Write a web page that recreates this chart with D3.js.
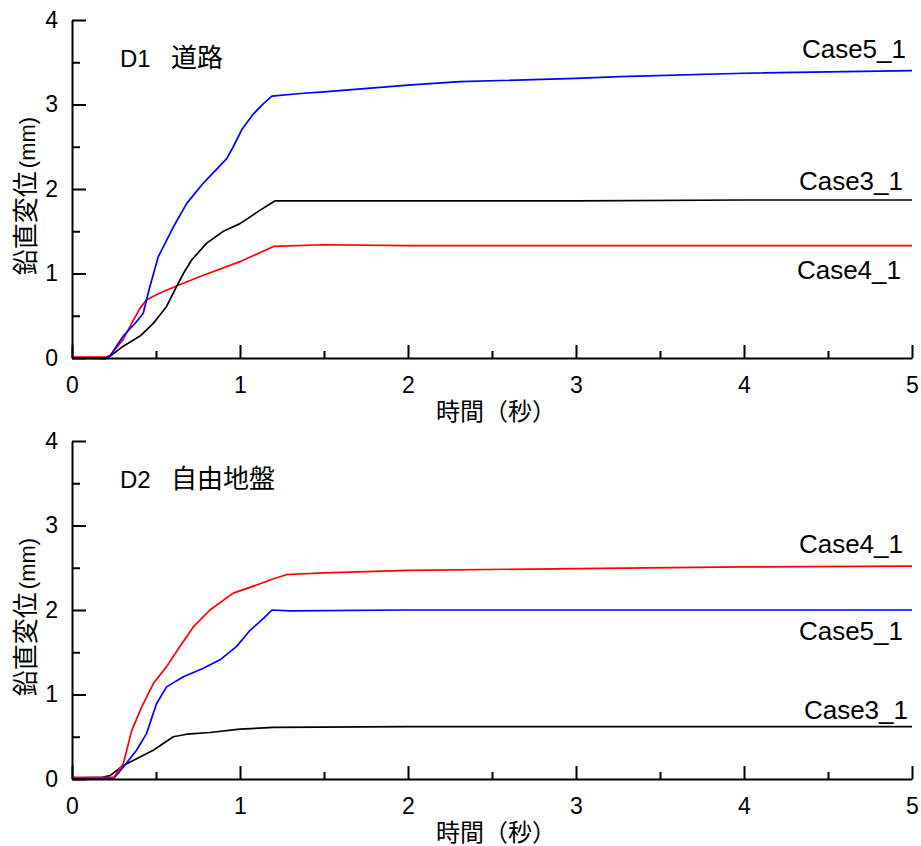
<!DOCTYPE html>
<html>
<head>
<meta charset="utf-8">
<script src="https://cdn.jsdelivr.net/npm/d3@7"></script>
<style>
  body { margin: 0; background: #fff; }
  svg { display: block; font-family: "Liberation Sans", Arial, "Noto Sans CJK JP", sans-serif; }
</style>
</head>
<body>
<div id="chart"></div>
<script>
// values: [time (s), vertical displacement (mm)]
var d1Case5 = [[0,0],[0.2,-0.01],[0.226,0.02],[0.305,0.26],[0.38,0.42],[0.424,0.53],[0.464,0.85],[0.514,1.20],[0.603,1.55],[0.683,1.83],[0.782,2.07],[0.921,2.36],[0.96,2.50],[1.01,2.70],[1.08,2.89],[1.14,3.01],[1.19,3.10],[1.36,3.13],[1.5,3.15],[2.0,3.23],[2.31,3.27],[3.0,3.31],[3.26,3.33],[4.0,3.37],[5.0,3.40]];
var d1Case3 = [[0,0],[0.2,0],[0.226,0.02],[0.305,0.14],[0.405,0.26],[0.484,0.41],[0.563,0.61],[0.613,0.81],[0.663,1.00],[0.712,1.16],[0.802,1.36],[0.901,1.50],[1.0,1.59],[1.12,1.75],[1.21,1.86],[2.0,1.86],[3.0,1.86],[4.0,1.87],[5.0,1.87]];
var d1Case4 = [[0,0.01],[0.2,0.01],[0.226,0.03],[0.305,0.22],[0.355,0.41],[0.405,0.59],[0.444,0.69],[0.524,0.77],[0.643,0.87],[0.782,0.98],[1.0,1.14],[1.2,1.32],[1.5,1.34],[2.0,1.33],[3.0,1.33],[4.0,1.33],[5.0,1.33]];

var d2Case4 = [[0,0.02],[0.25,0.02],[0.305,0.18],[0.355,0.57],[0.414,0.85],[0.484,1.13],[0.563,1.33],[0.643,1.57],[0.722,1.80],[0.821,2.00],[0.96,2.20],[1.12,2.31],[1.2,2.37],[1.28,2.42],[1.5,2.44],[2.0,2.47],[3.0,2.49],[4.0,2.51],[5.0,2.52]];
var d2Case5 = [[0,0],[0.25,0.01],[0.305,0.14],[0.384,0.34],[0.444,0.54],[0.503,0.89],[0.563,1.09],[0.663,1.21],[0.782,1.31],[0.881,1.41],[0.98,1.57],[1.06,1.76],[1.14,1.90],[1.19,2.00],[1.3,1.99],[2.0,2.00],[3.0,2.00],[4.0,2.00],[5.0,2.00]];
var d2Case3 = [[0,0.01],[0.18,0.02],[0.226,0.04],[0.305,0.16],[0.405,0.26],[0.484,0.34],[0.543,0.42],[0.603,0.50],[0.683,0.53],[0.821,0.55],[1.0,0.59],[1.2,0.61],[2.0,0.62],[3.0,0.62],[4.0,0.62],[5.0,0.62]];

var xMajor = [0, 1, 2, 3, 4, 5];
var xMinor = [0.5, 1.5, 2.5, 3.5, 4.5];
var yMajor = [0, 1, 2, 3, 4];
var yMinor = [0.5, 1.5, 2.5, 3.5];

var panels = [
  { title: "D1", place: "道路", top: 20, bottom: 358,
    series: [
      { data: d1Case4, color: "#ff0000", label: "Case4_1", lx: 901, ly: 279 },
      { data: d1Case3, color: "#000000", label: "Case3_1", lx: 903, ly: 190 },
      { data: d1Case5, color: "#0000ff", label: "Case5_1", lx: 906, ly: 58 }
    ] },
  { title: "D2", place: "自由地盤", top: 441, bottom: 779,
    series: [
      { data: d2Case3, color: "#000000", label: "Case3_1", lx: 908, ly: 719 },
      { data: d2Case5, color: "#0000ff", label: "Case5_1", lx: 903, ly: 640 },
      { data: d2Case4, color: "#ff0000", label: "Case4_1", lx: 903, ly: 553 }
    ] }
];

var svg = d3.select("#chart").append("svg").attr("width", 921).attr("height", 846);
var x = d3.scaleLinear().domain([0, 5]).range([72, 912]);

panels.forEach(function(p) {
    var y = d3.scaleLinear().domain([0, 4]).range([p.bottom, p.top]);
    var g = svg.append("g");

    // data lines
    var line = d3.line().x(function(d) { return x(d[0]); }).y(function(d) { return y(d[1]); });
    p.series.forEach(function(s) {
        g.append("path").datum(s.data)
            .attr("d", line)
            .attr("fill", "none")
            .attr("stroke", s.color)
            .attr("stroke-width", 1.7)
            .attr("stroke-linejoin", "round");
        g.append("text")
            .attr("x", s.lx).attr("y", s.ly)
            .attr("text-anchor", "end")
            .attr("font-size", "26px")
            .attr("fill", "#000")
            .text(s.label);
    });

    // axes, ticks pointing inward
    g.append("g").attr("transform", "translate(0," + p.bottom + ")")
        .call(d3.axisBottom(x).tickValues(xMajor).tickSizeInner(-13).tickSizeOuter(0).tickPadding(19).tickFormat(d3.format("d")));
    g.append("g").attr("transform", "translate(0," + p.bottom + ")")
        .call(d3.axisBottom(x).tickValues(xMinor).tickSizeInner(-7).tickSizeOuter(0).tickFormat(""))
        .select(".domain").remove();
    g.append("g").attr("transform", "translate(72,0)")
        .call(d3.axisLeft(y).tickValues(yMajor).tickSizeInner(-14).tickSizeOuter(0).tickPadding(14).tickFormat(d3.format("d")));
    g.append("g").attr("transform", "translate(72,0)")
        .call(d3.axisLeft(y).tickValues(yMinor).tickSizeInner(-8).tickSizeOuter(0).tickFormat(""))
        .select(".domain").remove();

    g.selectAll(".domain, .tick line").attr("stroke", "#000").attr("stroke-width", 2);
    g.selectAll(".tick text").attr("font-size", "23px").attr("font-family", "Liberation Sans, Arial, sans-serif").attr("fill", "#000");

    // panel title
    var t = g.append("text").attr("x", 120).attr("y", p.top + 47).attr("font-size", "24px").attr("fill", "#000");
    t.append("tspan").text(p.title);
    t.append("tspan").attr("x", 171).attr("font-size", "26px").text(p.place);

    // axis titles
    var yl = g.append("text")
        .attr("transform", "translate(35," + ((p.top + p.bottom) / 2 + 7) + ") rotate(-90)")
        .attr("text-anchor", "middle").attr("font-size", "26px").attr("fill", "#000");
    yl.append("tspan").text("鉛直変位");
    yl.append("tspan").attr("font-size", "22px").attr("dx", 3).text("(mm)");

    g.append("text")
        .attr("x", 496).attr("y", p.bottom + 62)
        .attr("text-anchor", "middle").attr("font-size", "24px").attr("fill", "#000")
        .text("時間（秒）");
});
</script>
</body>
</html>
